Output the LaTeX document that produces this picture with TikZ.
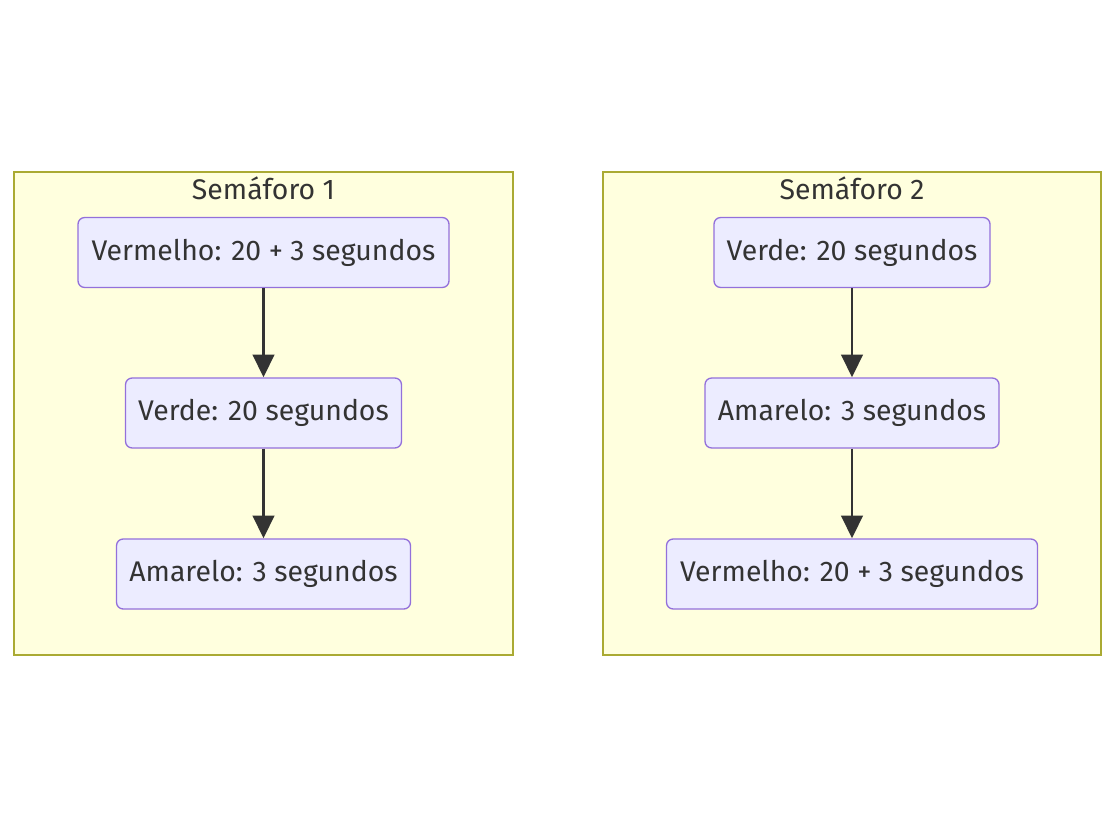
\documentclass[tikz,border=0pt]{standalone}
\usepackage{fontspec}
\setmainfont{Fira Sans}
\usetikzlibrary{arrows.meta}
\definecolor{clfill}{HTML}{FFFFDE}
\definecolor{clline}{HTML}{AAAA33}
\definecolor{ndfill}{HTML}{ECECFF}
\definecolor{ndline}{HTML}{9370DB}
\definecolor{txt}{HTML}{333333}
\tikzset{
  cluster/.style={draw=clline, fill=clfill, line width=1.5pt},
  box/.style={draw=ndline, fill=ndfill, line width=1pt, rounded corners=5pt, text=txt,
    font=\fontsize{21.3}{25}\selectfont, inner sep=0pt, minimum height=52.5pt},
  title/.style={text=txt, font=\fontsize{21.3}{25}\selectfont},
  flow/.style={draw=txt, line width=2.2pt, -{Triangle[length=17pt,width=16pt]}}
}
\begin{document}
\begin{tikzpicture}[x=0.75pt,y=-0.75pt]
\useasboundingbox (0,0) rectangle (1116,827);
% clusters
\path[cluster] (14,172) rectangle (513,655);
\path[cluster] (603,172) rectangle (1101,655);
\node[title] (t1) at (263.5,188) {Semáforo 1};
\node[title] (t2) at (852,188) {Semáforo 2};
% left nodes
\node[box, minimum width=278.25pt] (a1) at (263.5,252.5) {Vermelho: 20 + 3 segundos};
\node[box, minimum width=207pt] (a2) at (263.5,413) {Verde: 20 segundos};
\node[box, minimum width=220.5pt] (a3) at (263.5,574) {Amarelo: 3 segundos};
% right nodes
\node[box, minimum width=207pt] (b1) at (852,252.5) {Verde: 20 segundos};
\node[box, minimum width=220.5pt] (b2) at (852,413) {Amarelo: 3 segundos};
\node[box, minimum width=278.25pt] (b3) at (852,574) {Vermelho: 20 + 3 segundos};
% connectors
\draw[flow] (a1.south) -- (a2.north);
\draw[flow] (a2.south) -- (a3.north);
\draw[flow] (b1.south) -- (b2.north);
\draw[flow] (b2.south) -- (b3.north);
\end{tikzpicture}
\end{document}
